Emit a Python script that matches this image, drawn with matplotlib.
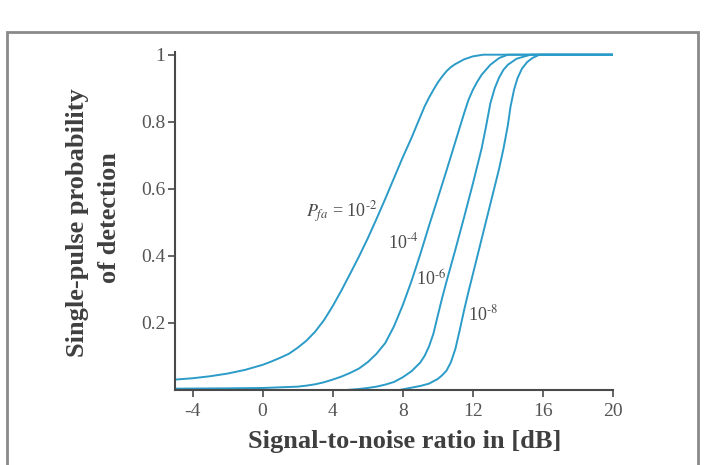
import matplotlib
matplotlib.use("Agg")
import matplotlib.pyplot as plt
from matplotlib.patches import Rectangle

plt.rcParams['font.family'] = ['Liberation Serif', 'DejaVu Serif']
plt.rcParams['mathtext.fontset'] = 'stix'

# ---- data ----
snr_1e2 = [-5, -4, -3, -2, -1, 0, 0.5, 1, 1.5, 2, 2.5, 3, 3.5, 4, 4.5, 5, 5.5, 6, 6.5, 7, 7.5, 8,
           8.5, 9, 9.25, 9.5, 9.75, 10, 10.25, 10.5, 10.75, 11, 11.5, 12, 12.6, 20]
pd_1e2 = [0.031, 0.035, 0.041, 0.049, 0.06, 0.075, 0.085, 0.096, 0.108, 0.126, 0.147, 0.174, 0.208,
          0.25, 0.297, 0.347, 0.398, 0.452, 0.51, 0.57, 0.632, 0.694, 0.752, 0.815, 0.846, 0.872,
          0.895, 0.917, 0.935, 0.951, 0.963, 0.972, 0.986, 0.995, 1.0, 1.0]

snr_1e4 = [-5, -2, 0, 1, 2, 2.5, 3, 3.5, 4, 4.5, 5, 5.5, 6, 6.5, 7, 7.5, 8, 8.5, 9, 9.5, 10, 10.5,
           11, 11.5, 11.75, 12, 12.25, 12.5, 12.75, 13, 13.5, 14, 20]
pd_1e4 = [0.004, 0.005, 0.006, 0.008, 0.01, 0.013, 0.017, 0.023, 0.031, 0.04, 0.051, 0.064, 0.083,
          0.108, 0.14, 0.19, 0.253, 0.325, 0.405, 0.49, 0.572, 0.655, 0.74, 0.825, 0.865, 0.895,
          0.919, 0.94, 0.955, 0.97, 0.99, 1.0, 1.0]

snr_1e6 = [4.8, 5.5, 6, 6.5, 7, 7.5, 8, 8.5, 9, 9.25, 9.5, 9.75, 10, 10.25, 10.5, 11, 11.5, 12,
           12.5, 12.75, 13, 13.25, 13.5, 13.75, 14, 14.5, 15.3, 20]
pd_1e6 = [0.0, 0.003, 0.006, 0.01, 0.016, 0.024, 0.038, 0.056, 0.082, 0.102, 0.13, 0.168, 0.222,
          0.275, 0.324, 0.418, 0.515, 0.615, 0.72, 0.785, 0.855, 0.9, 0.932, 0.955, 0.97, 0.988,
          1.0, 1.0]

snr_1e8 = [7.8, 8.5, 9, 9.5, 10, 10.25, 10.5, 10.75, 11, 11.25, 11.5, 11.75, 12, 12.5, 13, 13.5,
           13.75, 14, 14.15, 14.35, 14.55, 14.8, 15.1, 15.4, 15.8, 20]
pd_1e8 = [0.0, 0.007, 0.012, 0.019, 0.033, 0.044, 0.058, 0.083, 0.122, 0.178, 0.238, 0.293, 0.345,
          0.45, 0.555, 0.66, 0.72, 0.79, 0.845, 0.895, 0.93, 0.958, 0.978, 0.99, 1.0, 1.0]

x_ticks = [-4, 0, 4, 8, 12, 16, 20]
y_ticks = [0.2, 0.4, 0.6, 0.8, 1.0]
y_tick_labels = ['0.2', '0.4', '0.6', '0.8', '1']

labels = [r'$P_{fa}$ = 10$^{\text{-}2}$', r'10$^{\text{-}4}$', r'10$^{\text{-}6}$', r'10$^{\text{-}8}$']
label_pos = [(2.5, 0.53), (7.15, 0.44), (8.77, 0.328), (11.75, 0.224)]

# ---- figure ----
W, H = 705, 465
fig = plt.figure(figsize=(W / 100, H / 100), dpi=100)
fig.patch.set_facecolor('white')

frame = Rectangle((7 / W, -0.05), (698 - 7) / W, (1 - 32 / H) + 0.05,
                  transform=fig.transFigure, fill=False, edgecolor='#8a8a8a',
                  lw=2.0, clip_on=False)
fig.patches.append(frame)

ax = fig.add_axes([175 / W, 1 - 390 / H, (613 - 175) / W, (390 - 52) / H])
ax.set_xlim(-5, 20)
ax.set_ylim(0, 1.008)

line_color = '#2b9bc8'
for xs, ys in [(snr_1e2, pd_1e2), (snr_1e4, pd_1e4), (snr_1e6, pd_1e6), (snr_1e8, pd_1e8)]:
    ax.plot(xs, ys, color=line_color, lw=1.4, solid_joinstyle='round', solid_capstyle='round')

for txt, (tx, ty) in zip(labels, label_pos):
    ax.text(tx, ty, txt, fontsize=13, color='#4a4a4a', ha='left', va='center')

ax.set_xticks(x_ticks)
ax.set_xticklabels([str(v) for v in x_ticks])
ax.set_yticks(y_ticks)
ax.set_yticklabels(y_tick_labels)

for s in ['top', 'right']:
    ax.spines[s].set_visible(False)
for s in ['left', 'bottom']:
    ax.spines[s].set_color('#4a4a4a')
    ax.spines[s].set_linewidth(1.5)

ax.tick_params(axis='both', direction='out', length=5, width=1.2, color='#4a4a4a',
               labelcolor='#555555', labelsize=14)
ax.tick_params(axis='y', pad=2)
ax.tick_params(axis='x', pad=4)

fig.text(78 / W, 1 - 223 / H, 'Single-pulse probability', rotation=90,
         ha='center', va='center', fontsize=19, fontweight='bold', color='#3f3f3f')
fig.text(109 / W, 1 - 218 / H, 'of detection', rotation=90,
         ha='center', va='center', fontsize=19, fontweight='bold', color='#3f3f3f')
fig.text(405 / W, 1 - 441 / H, 'Signal-to-noise ratio in [dB]', ha='center', va='center',
         fontsize=19, fontweight='bold', color='#3f3f3f')

fig.savefig('out.png', dpi=100, facecolor='white')
